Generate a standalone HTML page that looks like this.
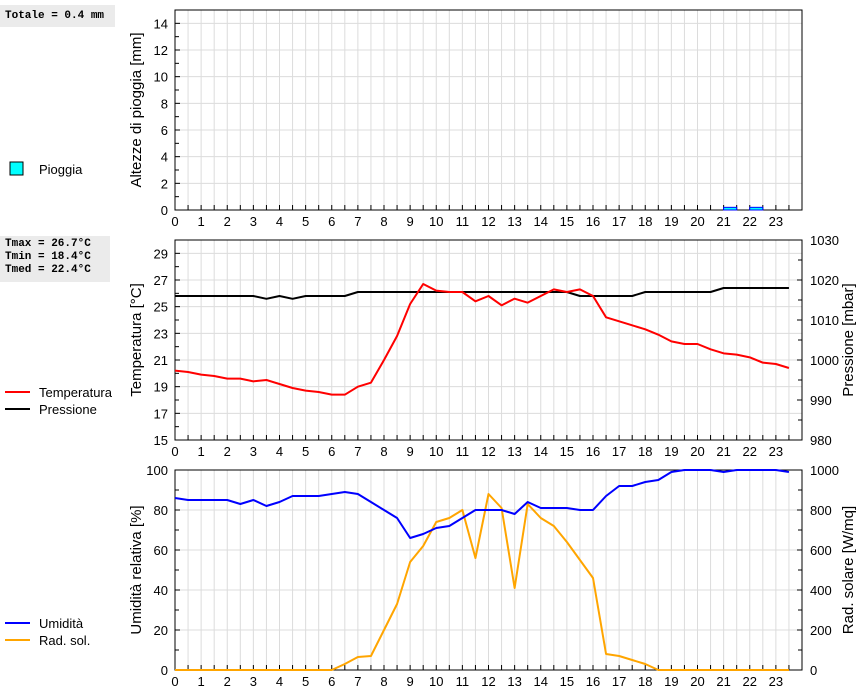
<!DOCTYPE html>
<html><head><meta charset="utf-8"><style>
body{margin:0;background:#fff;width:860px;height:690px;overflow:hidden;font-family:"Liberation Sans",sans-serif}
.box{position:absolute;background:#ebebeb;font-family:"Liberation Mono",monospace;font-weight:bold;font-size:11px;line-height:13px;padding:2px 5px}
</style></head><body>
<div class="box" style="left:0;top:5px;width:105px;height:18px;line-height:18px">Totale = 0.4 mm</div>
<div class="box" style="left:0;top:236px;width:100px;height:42px">Tmax = 26.7°C<br>Tmin = 18.4°C<br>Tmed = 22.4°C</div>
<svg id="chart" width="860" height="690" style="position:absolute;left:0;top:0" xmlns="http://www.w3.org/2000/svg"></svg>
<script>
const hours=[];for(let i=0;i<48;i++)hours.push(i/2);
const rainStart=[21,22];
const rainValues=[0.2,0.2];
const tempValues=[20.2,20.1,19.9,19.8,19.6,19.6,19.4,19.5,19.2,18.9,18.7,18.6,18.4,18.4,19.0,19.3,21.0,22.8,25.2,26.7,26.2,26.1,26.1,25.4,25.8,25.1,25.6,25.3,25.8,26.3,26.1,26.3,25.8,24.2,23.9,23.6,23.3,22.9,22.4,22.2,22.2,21.8,21.5,21.4,21.2,20.8,20.7,20.4];
const pressValues=[1016,1016,1016,1016,1016,1016,1016,1015.3,1016,1015.3,1016,1016,1016,1016,1017,1017,1017,1017,1017,1017,1017,1017,1017,1017,1017,1017,1017,1017,1017,1017,1017,1016,1016,1016,1016,1016,1017,1017,1017,1017,1017,1017,1018,1018,1018,1018,1018,1018];
const humValues=[86,85,85,85,85,83,85,82,84,87,87,87,88,89,88,84,80,76,66,68,71,72,76,80,80,80,78,84,81,81,81,80,80,87,92,92,94,95,99,100,100,100,99,100,100,100,100,99];
const radValues=[0,0,0,0,0,0,0,0,0,0,0,0,0,30,65,70,200,330,540,620,740,760,800,560,880,810,410,830,760,720,640,550,460,80,70,50,30,0,0,0,0,0,0,0,0,0,0,0];
const rainTicks=[0,2,4,6,8,10,12,14];
const tempTicks=[15,17,19,21,23,25,27,29];
const pressTicks=[980,990,1000,1010,1020,1030];
const humTicks=[0,20,40,60,80,100];
const radTicks=[0,200,400,600,800,1000];
const xTicks=[0,1,2,3,4,5,6,7,8,9,10,11,12,13,14,15,16,17,18,19,20,21,22,23];

const svg=document.getElementById('chart');const NS='http://www.w3.org/2000/svg';
function el(t,a,p){const e=document.createElementNS(NS,t);for(const k in a)e.setAttribute(k,a[k]);(p||svg).appendChild(e);return e;}
const X0=175,X1=802;
const x=h=>X0+h*(X1-X0)/24;
function panel(name,top,lmin,lmax,lticks,rmin,rmax,rticks,ltitle,rtitle){
  const g=el('g',{});
  
  
  const bot=top+200;
  const yl=v=>bot-(v-lmin)/(lmax-lmin)*200;
  const yr=rmin==null?null:(v=>bot-(v-rmin)/(rmax-rmin)*200);
  for(let i=1;i<48;i++)el('line',{x1:x(i/2),x2:x(i/2),y1:top,y2:bot,stroke:'#dcdcdc'},g);
  const step=lticks[1]-lticks[0];
  lticks.forEach(v=>{const y=yl(v);
    el('line',{x1:X0,x2:X1,y1:y,y2:y,stroke:'#dcdcdc'},g);
    el('line',{x1:X0,x2:X0+5,y1:y,y2:y,stroke:'#000'},g);
    const hm=yl(v+step/2);if(hm>top)el('line',{x1:X0,x2:X0+4,y1:hm,y2:hm,stroke:'#000'},g);
    const t=el('text',{x:X0-7,y:y+5,'text-anchor':'end','font-size':13},g);t.textContent=v;
    
    
  });
  if(rticks){const rs=rticks[1]-rticks[0];rticks.forEach(v=>{const y=yr(v);
    el('line',{x1:X1-5,x2:X1,y1:y,y2:y,stroke:'#000'},g);
    const hm=yr(v+rs/2);if(hm>top)el('line',{x1:X1-4,x2:X1,y1:hm,y2:hm,stroke:'#000'},g);
    const t=el('text',{x:X1+8,y:y+5,'font-size':13},g);t.textContent=v;
    
    
  });}
  for(let i=1;i<48;i++)el('line',{x1:x(i/2),x2:x(i/2),y1:bot,y2:bot-5,stroke:'#000'},g);
  xTicks.forEach(h=>{const t=el('text',{x:x(h),y:bot+16,'text-anchor':'middle','font-size':13},g);t.textContent=h;
    
    });
  el('rect',{x:X0,y:top,width:X1-X0,height:200,fill:'none',stroke:'#000'},g);
  const lt=el('text',{transform:`translate(141,${top+100}) rotate(-90)`,'text-anchor':'middle','font-size':15},g);lt.textContent=ltitle;
  
  
  if(rtitle){const rt=el('text',{transform:`translate(853,${top+100}) rotate(-90)`,'text-anchor':'middle','font-size':15},g);rt.textContent=rtitle;
    
    }
  return {g,yl,yr};
}
function line(g,vals,y,color,name){
  const p=el('polyline',{points:vals.map((v,i)=>x(hours[i])+','+y(v)).join(' '),fill:'none',stroke:color,'stroke-width':2,'stroke-linejoin':'round'},g);
  
  
}
function legend(y,color,label,name,box){
  if(box){const r=el('rect',{x:10,y:y-7,width:13,height:13,fill:'#00ffff',stroke:'#000'});}
  else el('line',{x1:5,x2:30,y1:y,y2:y,stroke:color,'stroke-width':2});
  const t=el('text',{x:box?39:39,y:y+5,'font-size':13});t.textContent=label;
  
  
}
// panel 1
const p1=panel('rain',10,0,15,rainTicks,null,null,null,'Altezze di pioggia [mm]',null);
rainStart.forEach((h,i)=>{const y=p1.yl(rainValues[i]);const r=el('rect',{x:x(h),y:y,width:x(h+0.5)-x(h),height:p1.yl(0)-y,fill:'#00ffff',stroke:'#0000ff'},p1.g);
  
  });
legend(169,'#00ffff','Pioggia','legend-pioggia',true);
// panel 2
const p2=panel('temp',240,15,30,tempTicks,980,1030,pressTicks,'Temperatura [°C]','Pressione [mbar]');
line(p2.g,pressValues,p2.yr,'#000','pressure-line');
line(p2.g,tempValues,p2.yl,'#ff0000','temperature-line');
legend(392,'#ff0000','Temperatura','legend-temperatura');
legend(409,'#000','Pressione','legend-pressione');
// panel 3
const p3=panel('hum',470,0,100,humTicks,0,1000,radTicks,'Umidità relativa [%]','Rad. solare [W/mq]');
line(p3.g,radValues,p3.yr,'#ffa500','radiation-line');
line(p3.g,humValues,p3.yl,'#0000ff','humidity-line');
legend(623,'#0000ff','Umidità','legend-umidita');
legend(640,'#ffa500','Rad. sol.','legend-radiazione');
</script>
</body></html>
